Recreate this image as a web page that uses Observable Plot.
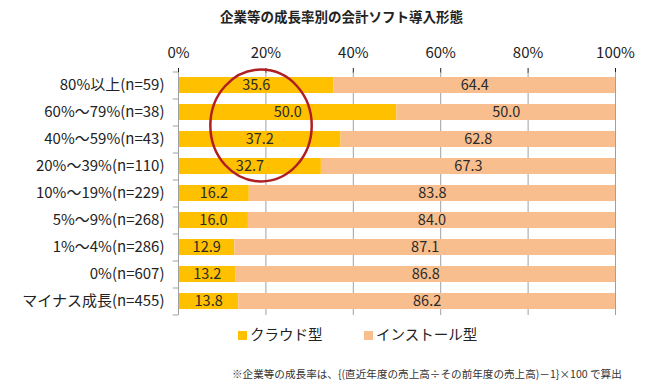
<!DOCTYPE html>
<html><head><meta charset="utf-8">
<script src="https://cdn.jsdelivr.net/npm/d3@7"></script>
<script src="https://cdn.jsdelivr.net/npm/@observablehq/plot@0.6"></script>
<style>
body{margin:0;background:#fff;font-family:"Noto Sans CJK JP","Noto Sans",sans-serif;color:#222;}
#wrap{width:665px;}
#title{height:30px;line-height:32px;text-align:center;font-weight:bold;font-size:13.5px;padding-left:18px;box-sizing:border-box;}
#legend{height:28px;position:relative;font-size:14.5px;}
.li{position:absolute;top:3px;display:flex;align-items:center;}
.sw{width:9px;height:9px;margin-right:3px;margin-top:4px;}
#note{font-size:10.6px;padding-left:232px;height:38px;line-height:52px;white-space:nowrap;color:#333;}
</style></head>
<body><div id="wrap">
<div id="title">企業等の成長率別の会計ソフト導入形態</div>
<div id="chart"></div>
<div id="legend"></div>
<div id="note">※企業等の成長率は、{(直近年度の売上高÷その前年度の売上高)－1}×100 で算出</div>
</div>
<script>
const categories = ["80%以上(n=59)", "60%～79%(n=38)", "40%～59%(n=43)", "20%～39%(n=110)", "10%～19%(n=229)", "5%～9%(n=268)", "1%～4%(n=286)", "0%(n=607)", "マイナス成長(n=455)"];
const seriesNames = ["クラウド型", "インストール型"];
const cloud = [35.6, 50.0, 37.2, 32.7, 16.2, 16.0, 12.9, 13.2, 13.8];
const install = [64.4, 50.0, 62.8, 67.3, 83.8, 84.0, 87.1, 86.8, 86.2];
const xTicks = [0, 20, 40, 60, 80, 100];
const colors = ["#FFC000", "#F9BE8E"];

const data = [];
categories.forEach((c, i) => {
  data.push({cat: c, series: seriesNames[0], value: cloud[i]});
  data.push({cat: c, series: seriesNames[1], value: install[i]});
});

const chart = Plot.plot({
  width: 665,
  height: 290,
  marginLeft: 178,
  marginRight: 50,
  marginTop: 42,
  marginBottom: 5,
  style: {fontFamily: '"Noto Sans CJK JP","Noto Sans",sans-serif', fontSize: "15px", color: "#222", background: "#fff"},
  x: {domain: [0, 100], axis: "top", ticks: xTicks, tickFormat: d => d + "%", tickSize: 5, tickPadding: 10, label: null},
  y: {domain: categories, paddingInner: 0.4, paddingOuter: 0.2, label: null, tickSize: 0, tickPadding: 14},
  color: {domain: seriesNames, range: colors},
  marks: [
    Plot.ruleX(xTicks.slice(1), {stroke: "#a0a0a0", strokeWidth: 1}),
    Plot.barX(data, Plot.stackX({x: "value", y: "cat", fill: "series", order: seriesNames})),
    Plot.text(data, Plot.stackX({x: "value", y: "cat", z: "series", order: seriesNames, text: d => d.value.toFixed(1), fill: "#2a2a2a", fontSize: 14.5})),
    Plot.ruleX([0], {stroke: "#a0a0a0"}),
    Plot.ruleY(categories, {y: d => d, x1: -1.2, x2: 0, dy: 13.5, stroke: "#a0a0a0"}),
    Plot.ruleY([categories[0]], {y: d => d, x1: -1.2, x2: 0, dy: -13.5, stroke: "#a0a0a0"})
  ]
});
document.getElementById("chart").appendChild(chart);

// annotation ellipse around the high-growth cloud values
const xs = chart.scale("x"), ys = chart.scale("y");
const step = ys.step;
const cy = (ys.apply(categories[1]) + ys.apply(categories[2])) / 2 + ys.bandwidth / 2;
d3.select(chart).append("ellipse")
  .attr("cx", xs.apply(19)).attr("cy", cy)
  .attr("rx", xs.apply(11.6) - xs.apply(0)).attr("ry", step * 2.07)
  .attr("fill", "none").attr("stroke", "#b01e23").attr("stroke-width", 2.5);

const leg = document.getElementById("legend");
const pos = [238, 364];
seriesNames.forEach((s, i) => {
  const d = document.createElement("div");
  d.className = "li"; d.style.left = pos[i] + "px";
  d.innerHTML = `<span class="sw" style="background:${colors[i]}"></span><span>${s}</span>`;
  leg.appendChild(d);
});
</script>
</body></html>
